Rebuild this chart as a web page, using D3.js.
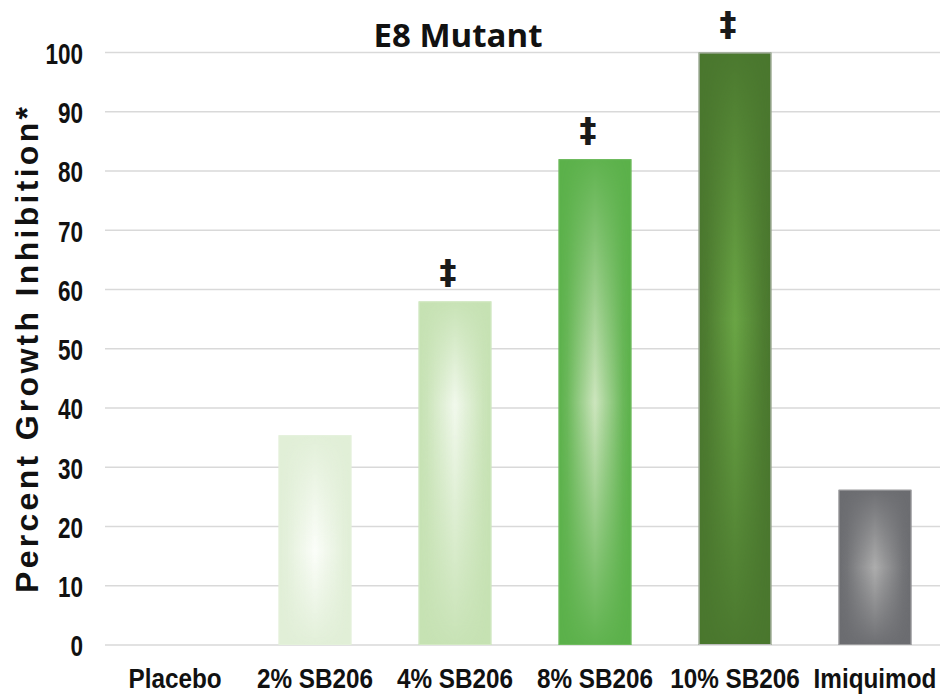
<!DOCTYPE html>
<html>
<head>
<meta charset="utf-8">
<script src="https://cdn.jsdelivr.net/npm/d3@7/dist/d3.min.js"></script>
<style>
  html, body { margin: 0; padding: 0; background: #fff; }
  svg { display: block; }
</style>
</head>
<body>
<svg id="chart" width="940" height="696"></svg>
<script>
// ---- data ----
const title = "E8 Mutant";
const yAxisTitle = "Percent Growth Inhibition*";
const categories = ["Placebo", "2% SB206", "4% SB206", "8% SB206", "10% SB206", "Imiquimod"];
const inhibition = [0, 35.4, 58, 82, 100, 26.2];
const significance = ["", "", "\u2021", "\u2021", "\u2021", ""];
const yTicks = [0, 10, 20, 30, 40, 50, 60, 70, 80, 90, 100];

// ---- styles (per bar: edge colour, glow colour, vertical glow centre) ----
const barStyles = [
  { edge: "#e2f0d9", glow: "#ffffff", peak: 0.5, border: "#e2f0d9" },
  { edge: "#e1efd7", glow: "#fbfdf9", peak: 0.55, border: "#e4f1db" },
  { edge: "#c6e2b3", glow: "#f1f8ec", peak: 0.3, border: "#d3e9c4" },
  { edge: "#5bb14a", glow: "#cde5be", peak: 0.5, border: "#6fbb5e" },
  { edge: "#4a772e", glow: "#6aa545", peak: 0.45, border: "#bcbcbc" },
  { edge: "#6b6c70", glow: "#adadad", peak: 0.5, border: "#9a9a9c" }
];

const FONT = "'Liberation Sans', Arial, sans-serif";
const svg = d3.select("#chart");
const W = 940, H = 696;
const plotLeft = 105, plotRight = 945;

const x = d3.scaleBand().domain(categories).range([plotLeft, plotRight])
  .paddingInner(0.48).paddingOuter(0.24);
const y = d3.scaleLinear().domain([0, 100]).range([645, 52.5]);

const defs = svg.append("defs");

// gridlines
svg.append("g").selectAll("line").data(yTicks).join("line")
  .attr("x1", plotLeft).attr("x2", W)
  .attr("y1", d => y(d)).attr("y2", d => y(d))
  .attr("stroke", "#d9d9d9").attr("stroke-width", 1.6);

// y axis via d3.axisLeft, condensed labels
const yAxis = svg.append("g").attr("transform", `translate(${plotLeft},0)`)
  .call(d3.axisLeft(y).tickValues(yTicks).tickSize(0).tickPadding(22));
yAxis.select(".domain").remove();
yAxis.selectAll("text")
  .attr("x", 0).attr("dy", "0.36em")
  .attr("transform", "translate(-22,0) scale(0.75,1)")
  .style("font-family", FONT).style("font-weight", "bold")
  .style("font-size", "30px")
  .attr("fill", "#111");

// x axis labels
const xAxis = svg.append("g").attr("transform", `translate(0,${y(0)})`)
  .call(d3.axisBottom(x).tickSize(0));
xAxis.select(".domain").remove();
xAxis.selectAll("text")
  .attr("y", 0).attr("dy", 0)
  .attr("transform", "translate(0,43) scale(0.9,1)")
  .style("font-family", FONT).style("font-weight", "bold")
  .style("font-size", "27px")
  .attr("fill", "#111");

// gradients
categories.forEach((c, i) => {
  const s = barStyles[i];
  const hg = defs.append("linearGradient").attr("id", "hg" + i)
    .attr("x1", 0).attr("x2", 1).attr("y1", 0).attr("y2", 0);
  hg.append("stop").attr("offset", "0%").attr("stop-color", s.glow).attr("stop-opacity", 0);
  hg.append("stop").attr("offset", "12%").attr("stop-color", s.glow).attr("stop-opacity", 0.15);
  hg.append("stop").attr("offset", "50%").attr("stop-color", s.glow).attr("stop-opacity", 1);
  hg.append("stop").attr("offset", "88%").attr("stop-color", s.glow).attr("stop-opacity", 0.15);
  hg.append("stop").attr("offset", "100%").attr("stop-color", s.glow).attr("stop-opacity", 0);

  const vg = defs.append("linearGradient").attr("id", "vg" + i)
    .attr("x1", 0).attr("x2", 0).attr("y1", 0).attr("y2", 1);
  vg.append("stop").attr("offset", "0%").attr("stop-color", "#fff").attr("stop-opacity", 0.05);
  vg.append("stop").attr("offset", (s.peak * 100) + "%").attr("stop-color", "#fff").attr("stop-opacity", 1);
  vg.append("stop").attr("offset", "100%").attr("stop-color", "#fff").attr("stop-opacity", 0.05);

  const m = defs.append("mask").attr("id", "mk" + i)
    .attr("maskContentUnits", "objectBoundingBox");
  m.append("rect").attr("x", 0).attr("y", 0).attr("width", 1).attr("height", 1)
    .attr("fill", `url(#vg${i})`);
});

// bars
const bars = svg.append("g").selectAll("g").data(categories).join("g");
bars.filter((d, i) => inhibition[i] > 0).each(function (c) {
  const i = categories.indexOf(c);
  const s = barStyles[i];
  const g = d3.select(this);
  const x0 = x(c), bw = x.bandwidth(), y0 = y(inhibition[i]), bh = y(0) - y0;
  g.append("rect").attr("x", x0).attr("y", y0).attr("width", bw).attr("height", bh)
    .attr("fill", s.edge);
  g.append("rect").attr("x", x0).attr("y", y0).attr("width", bw).attr("height", bh)
    .attr("fill", `url(#hg${i})`).attr("mask", `url(#mk${i})`);
  g.append("rect").attr("x", x0 + 0.5).attr("y", y0 + 0.5).attr("width", bw - 1).attr("height", bh - 1)
    .attr("fill", "none").attr("stroke", s.border).attr("stroke-width", 1);
});

// significance markers
svg.append("g").selectAll("text").data(categories).join("text")
  .attr("x", c => x(c) + x.bandwidth() / 2 - 7)
  .attr("y", (c, i) => y(inhibition[i]) - 17)
  .attr("text-anchor", "middle")
  .style("font-family", "'DejaVu Sans', sans-serif")
  .style("font-weight", "bold")
  .style("font-size", "34px")
  .attr("fill", "#1a1a1a")
  .text((c, i) => significance[i]);

// title
svg.append("text")
  .attr("x", 458).attr("y", 47)
  .attr("text-anchor", "middle")
  .style("font-family", "'Open Sans', sans-serif")
  .style("font-weight", "bold")
  .style("font-size", "33px")
  .style("font-stretch", "100%")
  .attr("fill", "#111")
  .text(title);

// y axis title
svg.append("text")
  .attr("transform", `translate(38,350) rotate(-90)`)
  .attr("text-anchor", "middle")
  .attr("textLength", 486)
  .attr("lengthAdjust", "spacing")
  .style("font-family", FONT)
  .style("font-weight", "bold")
  .style("font-size", "32px")
  .attr("fill", "#111")
  .text(yAxisTitle);
</script>
</body>
</html>
